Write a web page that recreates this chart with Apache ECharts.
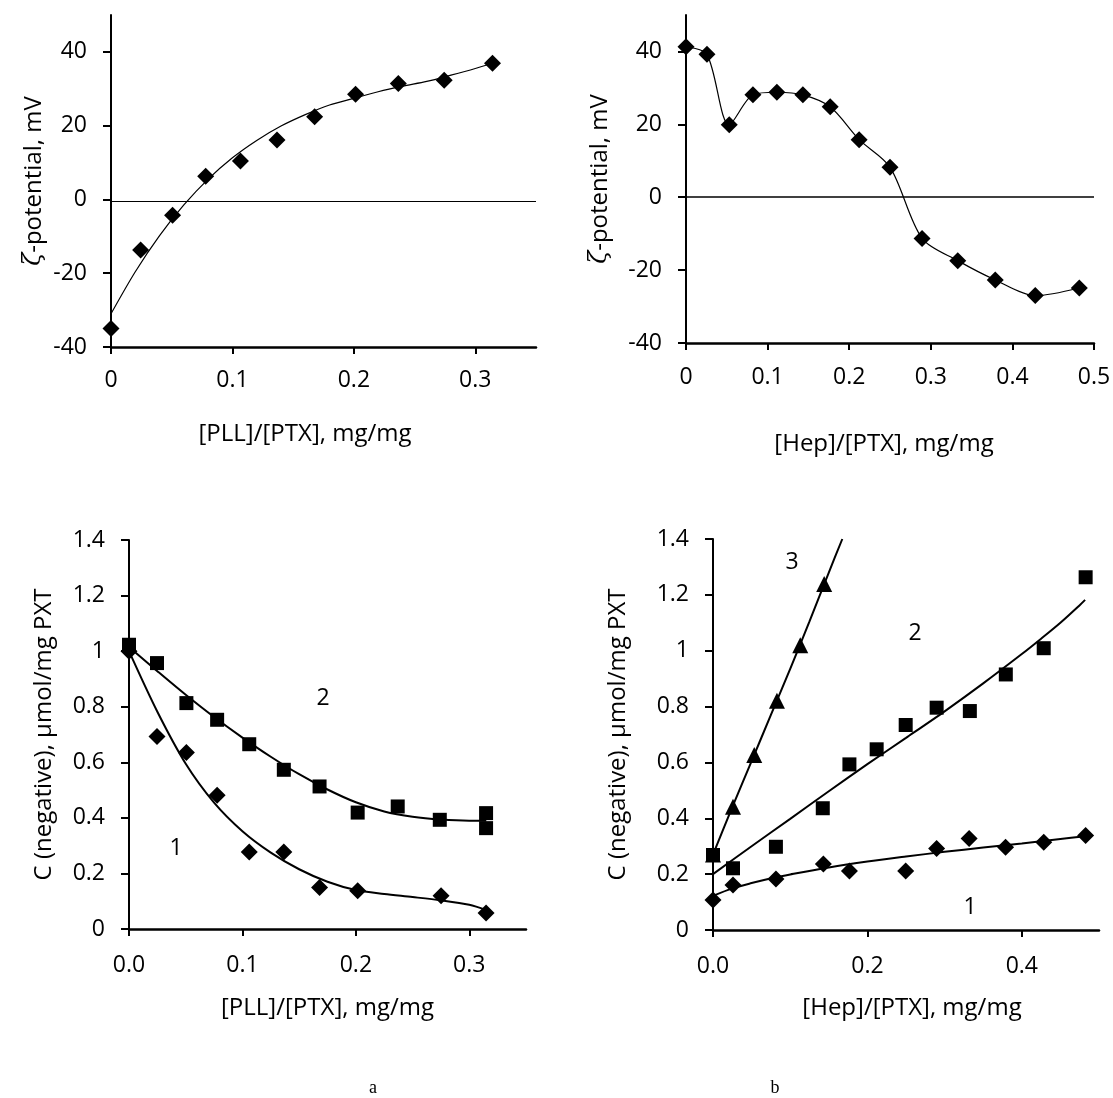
<!DOCTYPE html>
<html><head><meta charset="utf-8">
<script src="https://cdn.jsdelivr.net/npm/echarts@6/dist/echarts.min.js"></script>
<style>html,body{margin:0;padding:0;background:#fff}#c{width:1113px;height:1098px}</style>
</head><body><div id="c"></div>
<script>
// ---- Panel a (top): zeta-potential vs [PLL]/[PTX]
const pllZetaX = [0, 0.0244, 0.0507, 0.078, 0.1066, 0.1367, 0.1677, 0.2014, 0.2366, 0.2744, 0.3142];
const pllZetaY = [-35, -13.7, -4.3, 6.3, 10.4, 16.1, 22.4, 28.5, 31.4, 32.3, 36.9];
const pllZetaFitX = [0, 0.02, 0.04, 0.06, 0.08, 0.1, 0.12, 0.14, 0.16, 0.18, 0.2, 0.22, 0.24, 0.26, 0.28, 0.3, 0.315];
const pllZetaFitY = [-31, -19.6, -9.8, -1.5, 5.5, 11.3, 16.0, 19.9, 23.0, 25.6, 27.4, 29.2, 30.7, 32.0, 33.7, 35.5, 37.0];
const pllZeroLine = -0.6;

// ---- Panel b (top): zeta-potential vs [Hep]/[PTX]
const hepZetaX = [0, 0.0257, 0.053, 0.082, 0.1114, 0.1432, 0.1767, 0.2122, 0.25, 0.2893, 0.333, 0.379, 0.428, 0.482];
const hepZetaY = [41.3, 39.2, 19.9, 28.1, 28.8, 28.1, 24.8, 15.8, 8.25, -11.3, -17.4, -22.7, -27.0, -24.9];

// ---- Panel a (bottom): C(negative) vs [PLL]/[PTX]
const pllC1X = [0, 0.0247, 0.0506, 0.0777, 0.106, 0.1365, 0.168, 0.2016, 0.2751, 0.3148];
const pllC1Y = [1.0, 0.693, 0.635, 0.481, 0.277, 0.277, 0.149, 0.138, 0.120, 0.0575];
const pllC2X = [0, 0.0247, 0.0506, 0.0777, 0.106, 0.1365, 0.168, 0.2016, 0.2369, 0.274, 0.3148, 0.3148];
const pllC2Y = [1.023, 0.957, 0.813, 0.753, 0.665, 0.573, 0.513, 0.419, 0.441, 0.393, 0.417, 0.363];
const pllFit1X = [0, 0.025, 0.05, 0.075, 0.1, 0.125, 0.15, 0.175, 0.2, 0.225, 0.25, 0.275, 0.3, 0.315];
const pllFit1Y = [1.0, 0.782, 0.595, 0.455, 0.352, 0.275, 0.215, 0.17, 0.14, 0.126, 0.115, 0.103, 0.087, 0.068];
const pllFit2X = [0, 0.025, 0.05, 0.075, 0.1, 0.125, 0.15, 0.175, 0.2, 0.225, 0.25, 0.275, 0.3, 0.315];
const pllFit2Y = [1.015, 0.928, 0.843, 0.763, 0.689, 0.62, 0.557, 0.502, 0.456, 0.423, 0.404, 0.394, 0.39, 0.39];

// ---- Panel b (bottom): C(negative) vs [Hep]/[PTX]
const hepC1X = [0, 0.0259, 0.0815, 0.143, 0.1767, 0.2496, 0.2897, 0.3318, 0.379, 0.4284, 0.4827];
const hepC1Y = [0.107, 0.161, 0.183, 0.236, 0.211, 0.211, 0.292, 0.328, 0.296, 0.314, 0.338];
const hepC2X = [0, 0.0259, 0.0815, 0.1422, 0.1767, 0.212, 0.2496, 0.2897, 0.3327, 0.3793, 0.4284, 0.4827];
const hepC2Y = [0.2686, 0.221, 0.298, 0.436, 0.593, 0.647, 0.734, 0.796, 0.784, 0.915, 1.009, 1.263];
const hepC3X = [0, 0.0259, 0.0534, 0.0828, 0.113, 0.144];
const hepC3Y = [0.27, 0.441, 0.627, 0.821, 1.020, 1.239];
const hepFit1X = [0, 0.025, 0.05, 0.08, 0.1, 0.15, 0.2, 0.25, 0.3, 0.35, 0.4, 0.45, 0.482];
const hepFit1Y = [0.122, 0.149, 0.168, 0.188, 0.199, 0.224, 0.245, 0.263, 0.28, 0.295, 0.31, 0.326, 0.336];
const hepFit2X = [0, 0.05, 0.1, 0.15, 0.2, 0.25, 0.3, 0.35, 0.4, 0.425, 0.45, 0.475, 0.482];
const hepFit2Y = [0.2, 0.3, 0.398, 0.497, 0.594, 0.688, 0.783, 0.883, 0.988, 1.043, 1.1, 1.163, 1.182];
const hepFit3X = [0, 0.025, 0.05, 0.075, 0.1, 0.125, 0.15, 0.1675];
const hepFit3Y = [0.27, 0.44, 0.605, 0.77, 0.935, 1.105, 1.28, 1.4];

// ---- tick labels
const zetaTicks = [-40, -20, 0, 20, 40];
const cTicks = [0, 0.2, 0.4, 0.6, 0.8, 1, 1.2, 1.4];
const pllTicks = [0, 0.1, 0.2, 0.3];
const hepTopTicks = [0, 0.1, 0.2, 0.3, 0.4, 0.5];
const hepBottomTicks = [0, 0.2, 0.4];

const curveLabels = [
  {text: '2', x: 323, y: 698}, {text: '1', x: 176, y: 848},
  {text: '3', x: 792, y: 562}, {text: '2', x: 915, y: 633}, {text: '1', x: 970, y: 907}
];
const panelLabels = [{text: 'a', x: 373, y: 1088}, {text: 'b', x: 775, y: 1088}];

const zip = (xs, ys) => xs.map((x, i) => [x, ys[i]]);
const FONT = '"Open Sans", "Liberation Sans", sans-serif';
const tickTxt = {color: '#000', fontSize: 23, fontFamily: FONT};
const nameTxt = {color: '#000', fontSize: 24, fontFamily: FONT};

function xAx(grid, max, ticks, name, gap, pad, fmt, margin) {
  return {
    type: 'value', gridIndex: grid, min: 0, max: max,
    name: name, nameLocation: 'middle', nameGap: gap,
    nameTextStyle: Object.assign({padding: pad}, nameTxt),
    axisLine: {onZero: false, lineStyle: {color: '#000', width: 2.5}},
    axisTick: {length: 7, lineStyle: {color: '#000', width: 2}, customValues: ticks},
    axisLabel: Object.assign({margin: margin, customValues: ticks, formatter: fmt}, tickTxt),
    splitLine: {show: false}
  };
}
function yAx(grid, min, max, ticks, name, gap) {
  return {
    type: 'value', gridIndex: grid, min: min, max: max,
    name: name, nameLocation: 'middle', nameGap: gap,
    nameTextStyle: Object.assign({rich: {z: {fontFamily: '"DejaVu Serif", serif', fontStyle: 'italic', fontSize: 24, color: '#000'}}}, nameTxt),
    axisLine: {onZero: false, lineStyle: {color: '#000', width: 2}},
    axisTick: {length: 8, lineStyle: {color: '#000', width: 2}, customValues: ticks},
    axisLabel: Object.assign({margin: 24, customValues: ticks}, tickTxt),
    splitLine: {show: false}
  };
}
const fmt1 = v => v.toFixed(1);
const fmtDef = v => String(+v.toFixed(2));

function scatter(xi, yi, data, symbol, size) {
  return {type: 'scatter', xAxisIndex: xi, yAxisIndex: yi, data: data, symbol: symbol, symbolSize: size,
    itemStyle: {color: '#000', opacity: 1}, z: 5, silent: true};
}
function fit(xi, yi, data, w) {
  return {type: 'line', xAxisIndex: xi, yAxisIndex: yi, data: data, showSymbol: false, smooth: 0.3,
    lineStyle: {color: '#000', width: w}, z: 3, silent: true};
}

const option = {
  animation: false,
  backgroundColor: '#fff',
  grid: [
    {left: 111, top: 15, width: 425, height: 332, outerBoundsMode: 'none', containLabel: false},
    {left: 686, top: 15, width: 408, height: 328, outerBoundsMode: 'none', containLabel: false},
    {left: 129, top: 540, width: 397, height: 389, outerBoundsMode: 'none', containLabel: false},
    {left: 713, top: 539, width: 386, height: 391, outerBoundsMode: 'none', containLabel: false}
  ],
  xAxis: [
    xAx(0, 0.35, pllTicks, '[PLL]/[PTX], mg/mg', 75, [0, 37, 0, 0], fmtDef, 22),
    xAx(1, 0.5, hepTopTicks, '[Hep]/[PTX], mg/mg', 89, [0, 12, 0, 0], fmtDef, 23),
    xAx(2, 0.35, pllTicks, '[PLL]/[PTX], mg/mg', 67, [0, 0, 0, 0], fmt1, 25),
    xAx(3, 0.5, hepBottomTicks, '[Hep]/[PTX], mg/mg', 66, [0, 0, 0, 12], fmt1, 25)
  ],
  yAxis: [
    yAx(0, -40, 50, zetaTicks, '{z|ζ}-potential, mV', 65),
    yAx(1, -40, 50, zetaTicks, '{z|ζ}-potential, mV', 74),
    yAx(2, 0, 1.4, cTicks, 'C (negative), μmol/mg PXT', 73),
    yAx(3, 0, 1.4, cTicks, 'C (negative), μmol/mg PXT', 83)
  ],
  series: [
    // top-left
    Object.assign(fit(0, 0, zip(pllZetaFitX, pllZetaFitY), 1.2), {
      markLine: {silent: true, symbol: 'none', label: {show: false},
        lineStyle: {color: '#000', width: 1.2, type: 'solid'},
        data: [[{coord: [0, pllZeroLine]}, {coord: [0.35, pllZeroLine]}]]}
    }),
    scatter(0, 0, zip(pllZetaX, pllZetaY), 'diamond', 17),
    // top-right
    {type: 'line', xAxisIndex: 1, yAxisIndex: 1, data: zip(hepZetaX, hepZetaY), symbol: 'diamond', symbolSize: 17,
      smooth: 0.3, lineStyle: {color: '#000', width: 1.2}, itemStyle: {color: '#000', opacity: 1}, z: 5, silent: true,
      markLine: {silent: true, symbol: 'none', label: {show: false},
        lineStyle: {color: '#000', width: 1.5, type: 'solid'},
        data: [[{coord: [0, 0]}, {coord: [0.5, 0]}]]}},
    // bottom-left
    fit(2, 2, zip(pllFit1X, pllFit1Y), 2),
    fit(2, 2, zip(pllFit2X, pllFit2Y), 2),
    scatter(2, 2, zip(pllC1X, pllC1Y), 'diamond', 17),
    scatter(2, 2, zip(pllC2X, pllC2Y), 'rect', 14),
    // bottom-right
    fit(3, 3, zip(hepFit1X, hepFit1Y), 2),
    fit(3, 3, zip(hepFit2X, hepFit2Y), 2),
    fit(3, 3, zip(hepFit3X, hepFit3Y), 2),
    scatter(3, 3, zip(hepC3X, hepC3Y), 'triangle', 16),
    scatter(3, 3, zip(hepC1X, hepC1Y), 'diamond', 17),
    scatter(3, 3, zip(hepC2X, hepC2Y), 'rect', 14)
  ],
  graphic: curveLabels.map(l => ({type: 'text', x: l.x, y: l.y, silent: true,
      style: {text: l.text, fill: '#000', font: '23px ' + FONT, align: 'center', verticalAlign: 'middle'}}))
    .concat(panelLabels.map(l => ({type: 'text', x: l.x, y: l.y, silent: true,
      style: {text: l.text, fill: '#000', font: '18px "Liberation Serif", "DejaVu Serif", serif', align: 'center', verticalAlign: 'middle'}})))
};
const chart = echarts.init(document.getElementById('c'), null, {renderer: 'canvas'});
chart.setOption(option);
</script></body></html>
